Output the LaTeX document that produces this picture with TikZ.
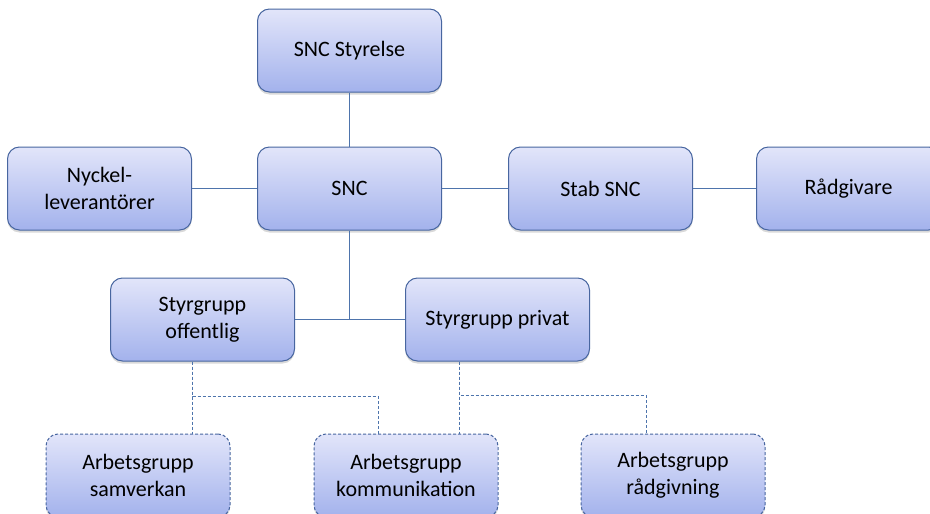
\documentclass[tikz,border=0pt]{standalone}
\usepackage{fontspec}
\setmainfont{Carlito}
\usepackage{xcolor}
\usepackage{tikz}
\usetikzlibrary{positioning,shadows}

\definecolor{boxtop}{RGB}{226,229,250}
\definecolor{boxbot}{RGB}{163,178,236}
\definecolor{boxline}{RGB}{72,102,160}
\definecolor{linkline}{RGB}{78,116,172}

\begin{document}
\begin{tikzpicture}[
    x=1pt, y=1pt,
    unit/.style={draw=boxline, line width=1pt, rounded corners=12pt, align=center,
      minimum width=184pt, minimum height=83pt, inner sep=2pt,
      top color=boxtop, bottom color=boxbot,
      font=\fontsize{22}{27}\selectfont,
      drop shadow={opacity=0.3, shadow xshift=0pt, shadow yshift=-2.5pt}},
    work/.style={unit, dash pattern=on 3pt off 2pt},
    link/.style={draw=linkline, line width=1.2pt},
    dlink/.style={draw=linkline, line width=1pt, dash pattern=on 3pt off 2pt},
    node distance=54pt and 65pt
]
\useasboundingbox (0,0) rectangle (930,-514);

% top rows
\node[unit] (snc) at (349.5,-188.5) {SNC};
\node[unit, above=of snc] (styrelse) {SNC Styrelse};
\node[unit, left=of snc] (nyckel) {Nyckel-\\leverantörer};
\node[unit, right=66pt of snc] (stab) {Stab SNC};
\node[unit, right=63pt of stab] (radgivare) {Rådgivare};

% styrgrupper
\node[unit, below=47pt of snc, xshift=-147pt] (offentlig) {Styrgrupp\\offentlig};
\node[unit, below=47pt of snc, xshift=148pt] (privat) {Styrgrupp privat};

% arbetsgrupper
\node[work, below=72pt of offentlig, xshift=-64.5pt] (samverkan) {Arbetsgrupp\\samverkan};
\node[work, right=83pt of samverkan] (kommunikation) {Arbetsgrupp\\kommunikation};
\node[work, right=82pt of kommunikation] (radgivning) {Arbetsgrupp\\rådgivning};

\draw[link] (styrelse) -- (snc);
\draw[link] (nyckel) -- (snc);
\draw[link] (snc) -- (stab);
\draw[link] (stab) -- (radgivare);
\draw[link] (snc) -- (snc |- offentlig.east);
\draw[link] (offentlig) -- (privat);

\draw[dlink] ([xshift=-10pt]offentlig.south) -- ([xshift=-10pt]offentlig.south |- samverkan.north);
\draw[dlink] ([xshift=-10pt]offentlig.south) -- ++(0,-35pt) -| ([xshift=-28pt]kommunikation.north);
\draw[dlink] ([xshift=-38pt]privat.south) -- ([xshift=-38pt]privat.south |- kommunikation.north);
\draw[dlink] ([xshift=-38pt]privat.south) -- ++(0,-34pt) -| ([xshift=-27pt]radgivning.north);
\end{tikzpicture}
\end{document}
